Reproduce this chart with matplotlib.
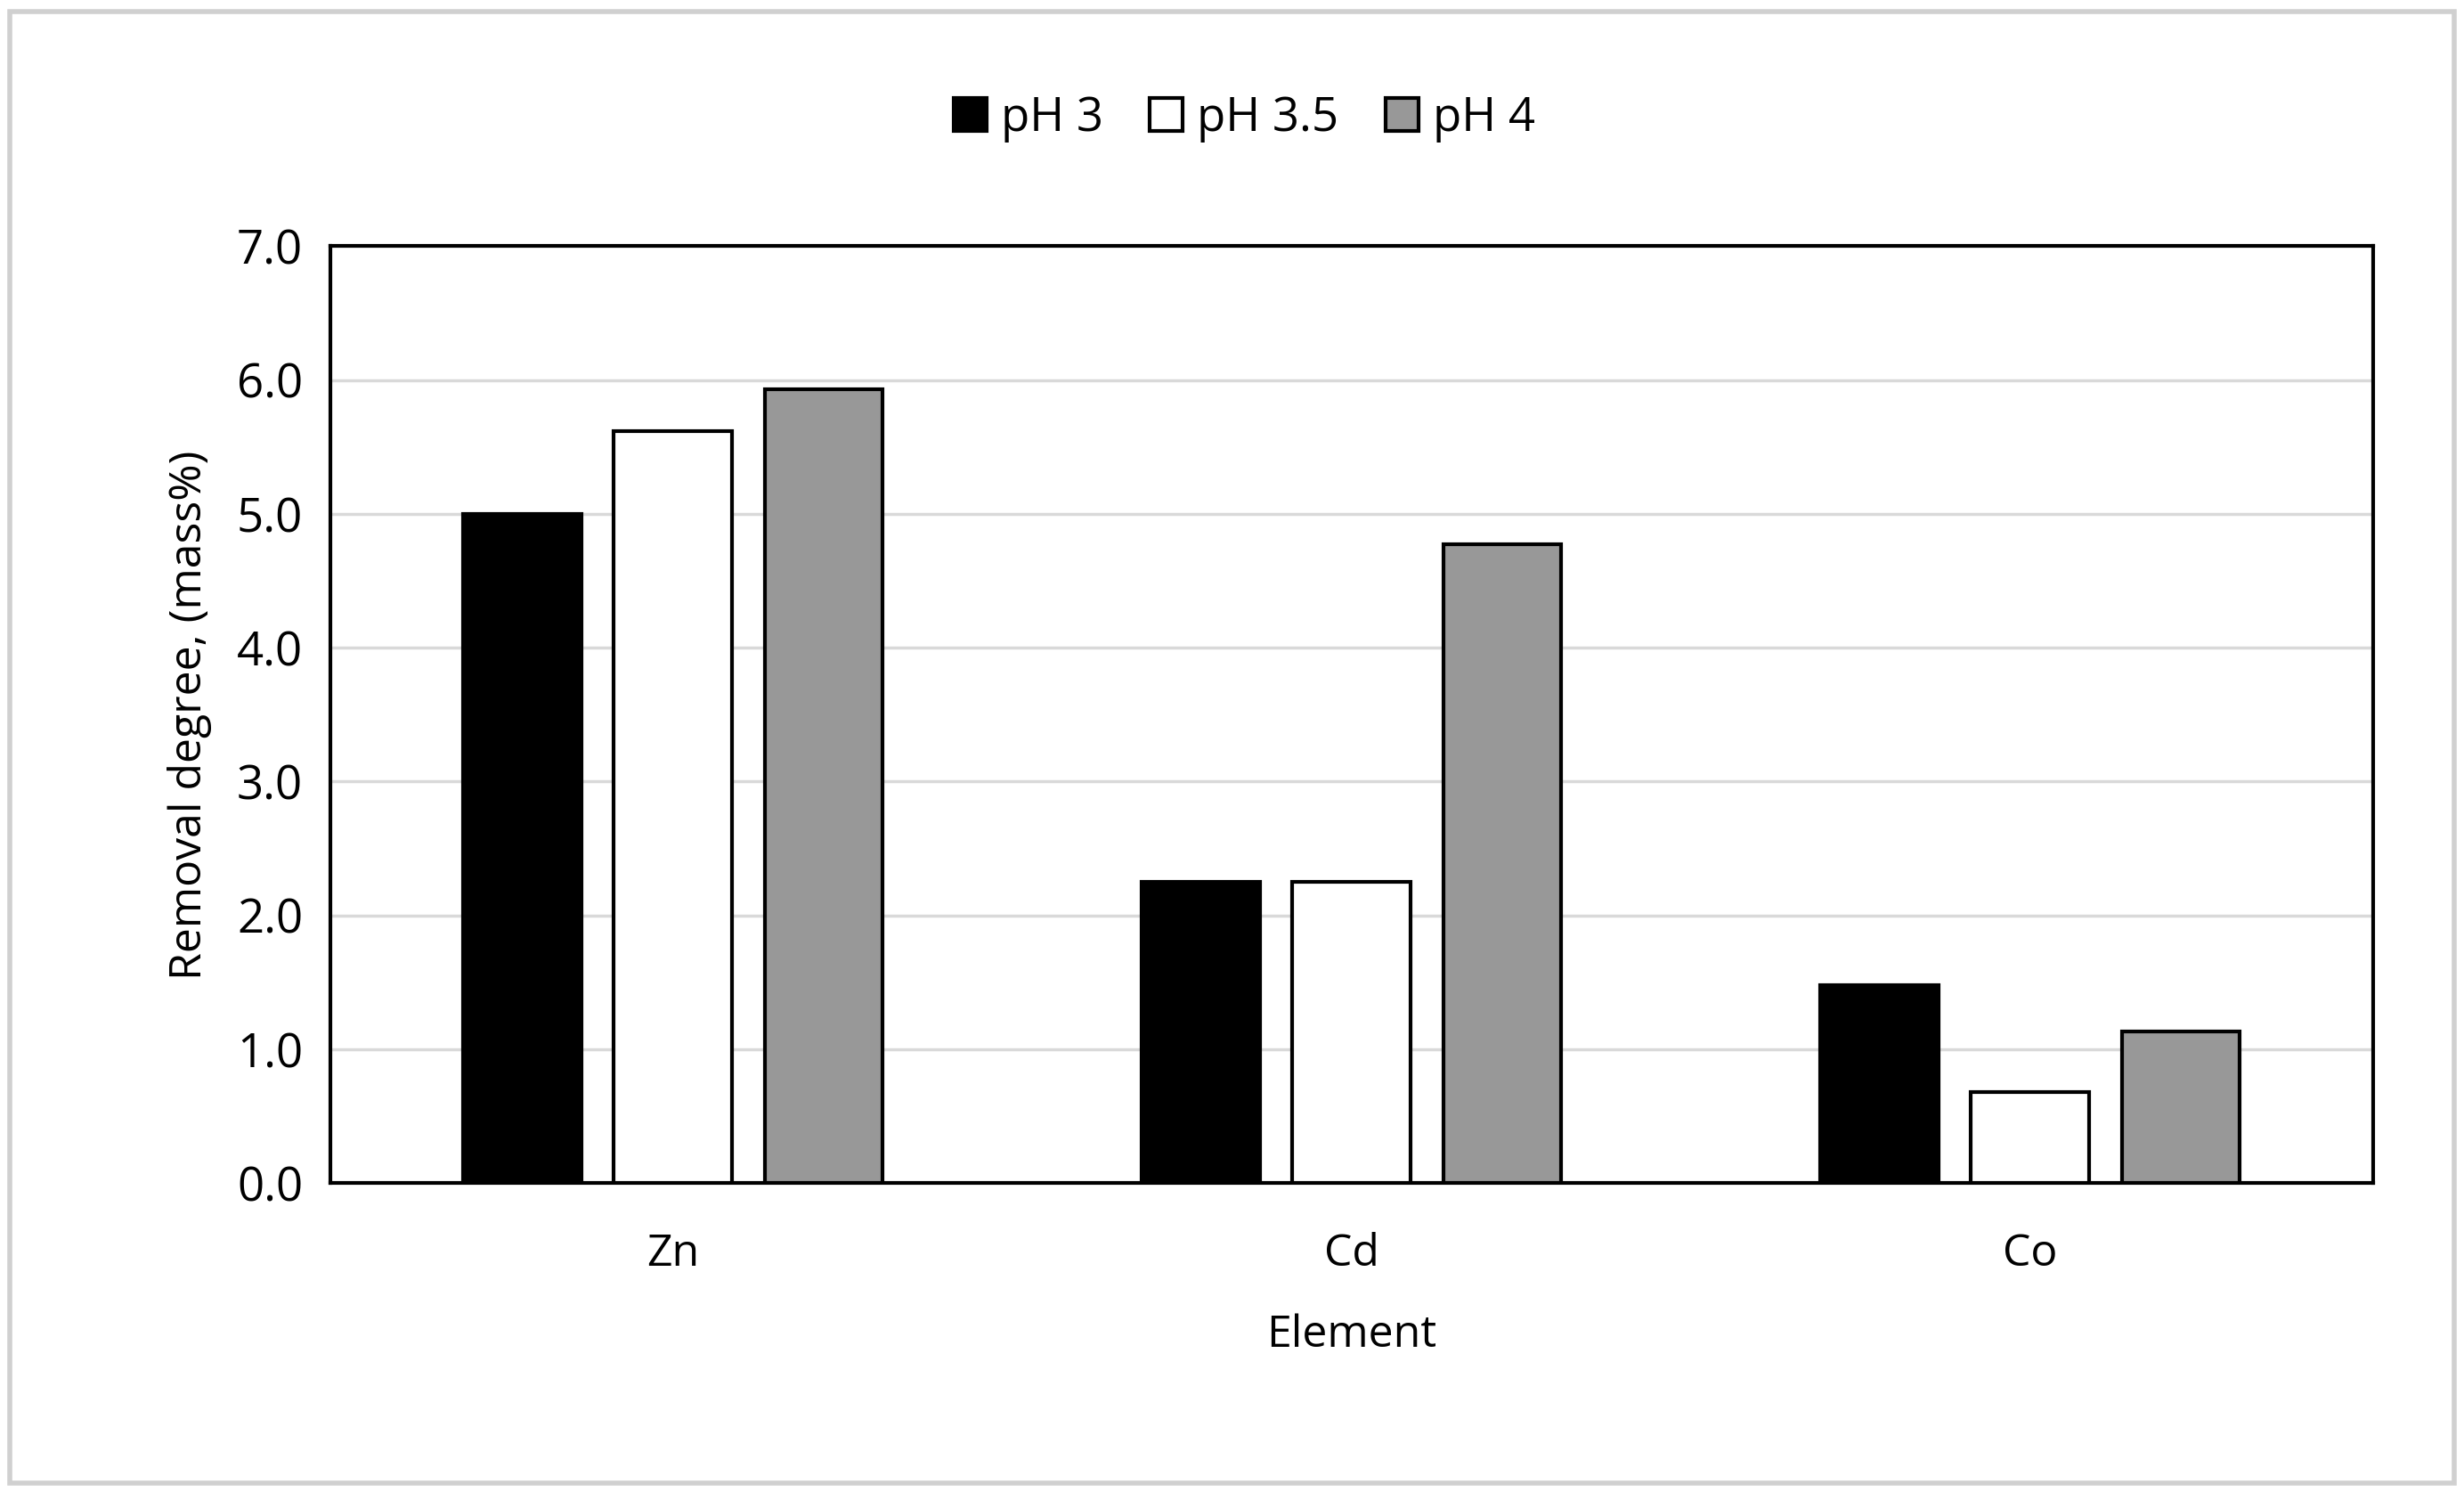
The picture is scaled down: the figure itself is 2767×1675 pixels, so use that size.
import matplotlib
matplotlib.use("Agg")
import matplotlib.pyplot as plt
import numpy as np
from matplotlib.patches import Rectangle

categories = ["Zn", "Cd", "Co"]
series = ["pH 3", "pH 3.5", "pH 4"]
ph3 = [5.0, 2.25, 1.48]
ph35 = [5.62, 2.25, 0.68]
ph4 = [5.93, 4.77, 1.13]
colors = ["#000000", "#ffffff", "#989898"]

plt.rcParams['font.family'] = ['Open Sans', 'DejaVu Sans']
fig = plt.figure(figsize=(27.67, 16.75), dpi=100)
ax = fig.add_axes([0.134, 0.207, 0.829, 0.628])
x = np.arange(len(categories))
w = 0.174
step = 0.222
for i, (vals, c, lab) in enumerate(zip([ph3, ph35, ph4], colors, series)):
    ax.bar(x + (i - 1) * step, vals, w, color=c, edgecolor="black", linewidth=3, label=lab, zorder=3)
ax.set_xlim(-0.505, 2.505)
ax.set_ylim(0, 7)
ax.set_yticks(np.arange(0, 7.01, 1.0))
ax.set_yticklabels([f"{v:.1f}" for v in np.arange(0, 7.01, 1.0)], fontsize=38)
ax.set_xticks(x)
ax.set_xticklabels(categories, fontsize=36)
ax.tick_params(length=0, pad=22)
ax.tick_params(axis='x', pad=40)
ax.grid(axis='y', color="#d9d9d9", linewidth=2.5, zorder=0)
for s in ax.spines.values():
    s.set_linewidth(3)
ax.set_xlabel("Element", fontsize=36, labelpad=30)
ax.set_ylabel("Removal degree, (mass%)", fontsize=36, labelpad=20)
leg = fig.legend(loc="upper center", bbox_to_anchor=(0.505, 0.965), ncol=3, frameon=False,
                 fontsize=38, handlelength=0.7, handleheight=0.7, handletextpad=0.3, columnspacing=1.0)
fig.patches.append(Rectangle((0.004, 0.006), 0.992, 0.986, transform=fig.transFigure,
                             fill=False, edgecolor="#d0d0d0", linewidth=4))
fig.savefig("out.png", dpi=100)
